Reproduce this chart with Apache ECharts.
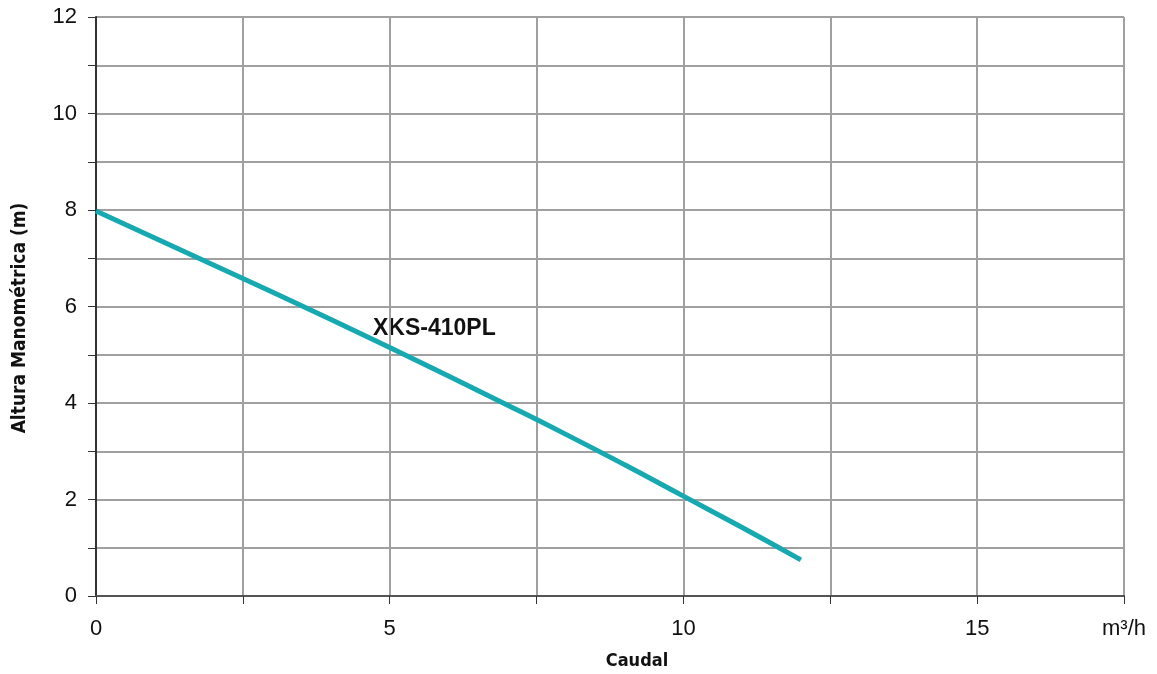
<!DOCTYPE html>
<html><head><meta charset="utf-8">
<script src="https://cdn.jsdelivr.net/npm/echarts@6/dist/echarts.min.js"></script>
<style>html,body{margin:0;padding:0;background:#fff}#c{width:1157px;height:674px}</style>
</head><body><div id="c"></div>
<script>
const flow = [0, 1, 2, 3, 4, 5, 6, 7, 8, 9, 10, 11, 12];
const head = [7.98, 7.42, 6.86, 6.30, 5.73, 5.15, 4.56, 3.96, 3.35, 2.72, 2.07, 1.42, 0.75];
const seriesName = 'XKS-410PL';
const xTitle = 'Caudal';
const yTitle = 'Altura Manométrica (m)';
const xUnit = 'm³/h';

const chart = echarts.init(document.getElementById('c'));
const tickFont = "'Liberation Sans', Arial, sans-serif";
const boldFont = "'Liberation Sans Narrow', 'DejaVu Sans Condensed', 'Arial Narrow', 'Liberation Sans', sans-serif";
chart.setOption({
  animation: false,
  grid: {left: 96, right: 33, top: 17, bottom: 78},
  xAxis: [{
    type: 'value', min: 0, max: 17.5, interval: 2.5,
    axisLine: {show: true, lineStyle: {color: '#666', width: 1}},
    axisTick: {show: true, length: 8, lineStyle: {color: '#333'}},
    splitLine: {show: true, lineStyle: {color: '#a0a0a0', width: 2}},
    axisLabel: {
      margin: 22, fontSize: 22, color: '#111', fontFamily: tickFont,
      formatter: v => (Math.abs(v - 17.5) < 1e-6 ? xUnit : (v % 5 === 0 ? String(v) : ''))
    }
  }, {
    type: 'value', position: 'top', min: 0, max: 17.5,
    axisLine: {show: true, lineStyle: {color: '#555', width: 2}},
    axisTick: {show: false}, axisLabel: {show: false}, splitLine: {show: false}
  }],
  yAxis: [{
    type: 'value', min: 0, max: 12, interval: 1,
    axisLine: {show: true, lineStyle: {color: '#333', width: 1}},
    axisTick: {show: true, length: 8, lineStyle: {color: '#333'}},
    splitLine: {show: true, lineStyle: {color: '#a0a0a0', width: 2}},
    axisLabel: {
      margin: 19, fontSize: 22, color: '#111', fontFamily: tickFont,
      formatter: v => (v % 2 === 0 ? String(v) : '')
    }
  }, {
    type: 'value', position: 'right', min: 0, max: 12,
    axisLine: {show: true, lineStyle: {color: '#333', width: 2}},
    axisTick: {show: false}, axisLabel: {show: false}, splitLine: {show: false}
  }],
  series: [{
    name: seriesName, type: 'line', smooth: true, symbol: 'none',
    data: flow.map((x, i) => [x, head[i]]),
    lineStyle: {color: '#17a9b1', width: 5},
    z: 5
  }],
  graphic: [
    {type: 'text', left: 373, top: 317, style: {text: seriesName, font: "bold 23px 'Liberation Sans', Arial, sans-serif", fill: '#111'}},
    {type: 'text', x: 637, y: 661, style: {text: xTitle, font: "bold 18px " + boldFont, fill: '#111', align: 'center', verticalAlign: 'middle'}},
    {type: 'text', x: 20, y: 318, rotation: Math.PI / 2, style: {text: yTitle, font: "bold 19px " + boldFont, fill: '#111', align: 'center', verticalAlign: 'middle'}}
  ]
});
</script></body></html>
